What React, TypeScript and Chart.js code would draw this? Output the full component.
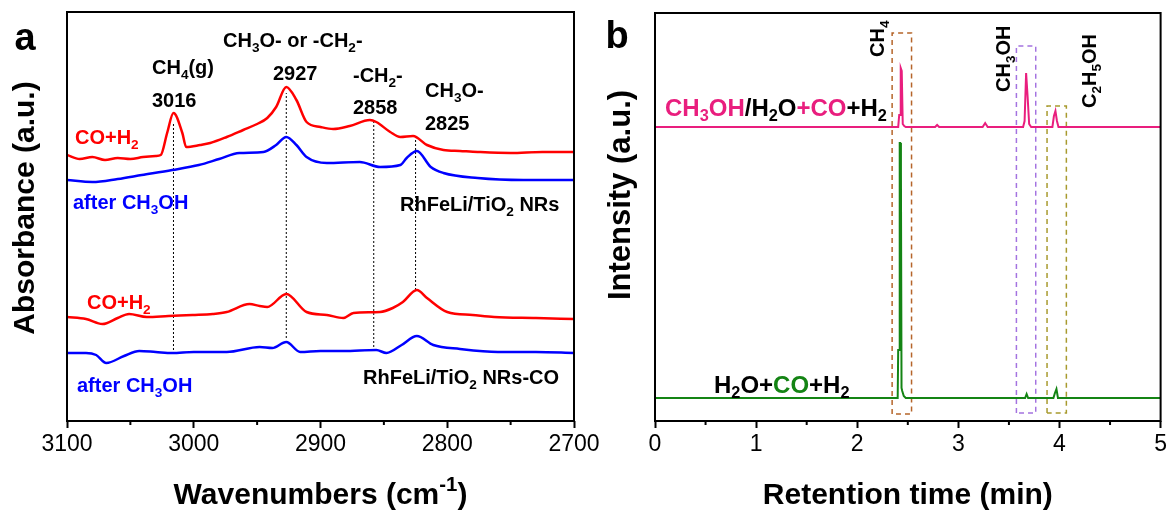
import React, { useEffect, useRef } from "react";
import { Chart, registerables } from "chart.js";

Chart.register(...registerables);

const FONT = "'Liberation Sans', Arial, Helvetica, sans-serif";

// ---------------- Panel a : DRIFTS spectra (wavenumber, absorbance a.u.) ----------------
const wnRedTop = [3100, 3090, 3080, 3070, 3060, 3050, 3040, 3030, 3026, 3021, 3016, 3009, 3006, 2995, 2987, 2974, 2961, 2950, 2942, 2935, 2927, 2919, 2911, 2900, 2890, 2877, 2861, 2856, 2845, 2837, 2827, 2816, 2803, 2790, 2776, 2750, 2725, 2700];
const absRedTop = [2.66, 2.62, 2.64, 2.61, 2.63, 2.62, 2.64, 2.65, 2.66, 2.88, 3.08, 2.88, 2.74, 2.76, 2.78, 2.84, 2.91, 2.97, 3.03, 3.14, 3.34, 3.21, 2.99, 2.94, 2.92, 2.95, 3.01, 2.99, 2.89, 2.84, 2.85, 2.76, 2.71, 2.70, 2.69, 2.68, 2.69, 2.69];

const wnBlueTop = [3100, 3080, 3060, 3041, 3017, 2996, 2980, 2964, 2945, 2935, 2927, 2919, 2911, 2895, 2869, 2853, 2837, 2832, 2824, 2813, 2803, 2776, 2740, 2700];
const absBlueTop = [2.41, 2.39, 2.42, 2.46, 2.51, 2.56, 2.62, 2.68, 2.69, 2.76, 2.84, 2.76, 2.64, 2.58, 2.59, 2.54, 2.56, 2.63, 2.70, 2.54, 2.48, 2.43, 2.41, 2.41];

const wnRedBottom = [3100, 3085, 3072, 3060, 3051, 3037, 3020, 3001, 2985, 2974, 2956, 2948, 2942, 2927, 2911, 2895, 2882, 2874, 2853, 2843, 2835, 2824, 2816, 2800, 2780, 2763, 2730, 2700];
const absRedBottom = [1.04, 1.02, 0.97, 1.03, 1.07, 1.04, 1.05, 1.06, 1.07, 1.09, 1.17, 1.15, 1.14, 1.27, 1.09, 1.06, 1.03, 1.08, 1.09, 1.13, 1.19, 1.31, 1.23, 1.09, 1.06, 1.04, 1.03, 1.02];

const wnBlueBottom = [3100, 3085, 3077, 3069, 3055, 3043, 3030, 3017, 3000, 2974, 2948, 2938, 2927, 2916, 2900, 2882, 2856, 2848, 2836, 2824, 2811, 2790, 2760, 2730, 2700];
const absBlueBottom = [0.68, 0.68, 0.66, 0.58, 0.65, 0.70, 0.69, 0.68, 0.69, 0.69, 0.74, 0.73, 0.79, 0.69, 0.70, 0.70, 0.71, 0.68, 0.76, 0.85, 0.76, 0.72, 0.69, 0.69, 0.68];

const markerWn = [3016, 2927, 2858, 2825];
const markerTop = [2.98, 3.28, 2.99, 2.81];
const markerBottom = [0.71, 0.83, 0.74, 1.31];

const ticksA = [2700, 2800, 2900, 3000, 3100];
const minorA = [2750, 2850, 2950, 3050];

// ---------------- Panel b : GC traces (retention time min, intensity a.u.) ----------------
const tPink = [0, 2.30, 2.405, 2.415, 2.425, 2.43, 2.44, 2.45, 2.465, 2.48, 2.77, 2.79, 2.81, 3.24, 3.265, 3.29, 3.64, 3.655, 3.67, 3.685, 3.70, 3.72, 3.93, 3.945, 3.96, 3.975, 3.99, 5];
const iPink = [2.94, 2.94, 2.94, 3.06, 3.06, 3.53, 3.50, 2.97, 2.95, 2.94, 2.94, 2.96, 2.94, 2.94, 2.98, 2.94, 2.94, 3.00, 3.48, 3.24, 2.97, 2.94, 2.94, 3.05, 3.10, 3.00, 2.94, 2.94];

const tGreen = [0, 2.40, 2.405, 2.415, 2.42, 2.425, 2.432, 2.438, 2.445, 2.46, 2.48, 3.66, 3.675, 3.69, 3.94, 3.955, 3.97, 3.985, 5];
const iGreen = [0.23, 0.23, 0.71, 0.71, 2.78, 2.78, 2.49, 0.33, 0.30, 0.25, 0.23, 0.23, 0.27, 0.23, 0.23, 0.28, 0.32, 0.23, 0.23];

const boxStart = [2.345, 3.574, 3.877];
const boxEnd = [2.537, 3.765, 4.068];
const boxTop = [3.88, 3.75, 3.15];
const boxBottom = [0.07, 0.08, 0.08];
const boxColors = ["#b5652a", "#a473e0", "#a89a2e"];

const ticksB = [0, 1, 2, 3, 4, 5];
const minorB = [0.5, 1.5, 2.5, 3.5, 4.5];

const RED = "#ff0000";
const BLUE = "#0000ff";
const PINK = "#e91e7e";
const GREEN = "#148414";

type Seg = { t: string; c?: string; s?: "sub" | "sup" };
type Note = { segs: Seg[]; dx: number; dy: number; size: number; rot?: boolean };

const S = (t: string, c?: string, s?: "sub" | "sup"): Seg => ({ t, c, s });

const notesA: Note[] = [
  { segs: [S("CH"), S("4", undefined, "sub"), S("(g)")], dx: 85, dy: 55, size: 20 },
  { segs: [S("3016")], dx: 85, dy: 88, size: 20 },
  { segs: [S("CH"), S("3", undefined, "sub"), S("O- or -CH"), S("2", undefined, "sub"), S("-")], dx: 156, dy: 28, size: 20 },
  { segs: [S("2927")], dx: 206, dy: 61, size: 20 },
  { segs: [S("-CH"), S("2", undefined, "sub"), S("-")], dx: 286, dy: 63, size: 20 },
  { segs: [S("2858")], dx: 286, dy: 95, size: 20 },
  { segs: [S("CH"), S("3", undefined, "sub"), S("O-")], dx: 358, dy: 78, size: 20 },
  { segs: [S("2825")], dx: 358, dy: 111, size: 20 },
  { segs: [S("CO+H", RED), S("2", RED, "sub")], dx: 8, dy: 125, size: 20 },
  { segs: [S("after CH", BLUE), S("3", BLUE, "sub"), S("OH", BLUE)], dx: 6, dy: 190, size: 20 },
  { segs: [S("RhFeLi/TiO"), S("2", undefined, "sub"), S(" NRs")], dx: 333, dy: 192, size: 20 },
  { segs: [S("CO+H", RED), S("2", RED, "sub")], dx: 20, dy: 290, size: 20 },
  { segs: [S("after CH", BLUE), S("3", BLUE, "sub"), S("OH", BLUE)], dx: 10, dy: 373, size: 20 },
  { segs: [S("RhFeLi/TiO"), S("2", undefined, "sub"), S(" NRs-CO")], dx: 296, dy: 365, size: 20 },
];

const notesB: Note[] = [
  { segs: [S("CH", PINK), S("3", PINK, "sub"), S("OH", PINK), S("/H"), S("2", undefined, "sub"), S("O"), S("+CO", PINK), S("+H"), S("2", undefined, "sub")], dx: 10, dy: 94, size: 24 },
  { segs: [S("H"), S("2", undefined, "sub"), S("O+"), S("CO", GREEN), S("+H"), S("2", undefined, "sub")], dx: 59, dy: 371, size: 24 },
  { segs: [S("CH"), S("4", undefined, "sub")], dx: 222, dy: 44, size: 20, rot: true },
  { segs: [S("CH"), S("3", undefined, "sub"), S("OH")], dx: 348, dy: 79, size: 20, rot: true },
  { segs: [S("C"), S("2", undefined, "sub"), S("H"), S("5", undefined, "sub"), S("OH")], dx: 434, dy: 95, size: 20, rot: true },
];

function richWidth(ctx: CanvasRenderingContext2D, segs: Seg[], size: number, weight: string) {
  let w = 0;
  for (const s of segs) {
    const fs = s.s ? size * 0.68 : size;
    ctx.font = `${weight} ${fs}px ${FONT}`;
    w += ctx.measureText(s.t).width;
  }
  return w;
}

function drawRich(
  ctx: CanvasRenderingContext2D,
  segs: Seg[],
  x: number,
  y: number,
  size: number,
  opts: { weight?: string; rot?: boolean; center?: boolean } = {}
) {
  const weight = opts.weight || "bold";
  ctx.save();
  ctx.translate(x, y);
  if (opts.rot) ctx.rotate(-Math.PI / 2);
  ctx.textBaseline = "alphabetic";
  ctx.textAlign = "left";
  let cx = opts.center ? -richWidth(ctx, segs, size, weight) / 2 : 0;
  const base = size * 0.36;
  for (const s of segs) {
    const fs = s.s ? size * 0.68 : size;
    ctx.font = `${weight} ${fs}px ${FONT}`;
    ctx.fillStyle = s.c || "#000";
    const dy = s.s === "sub" ? size * 0.22 : s.s === "sup" ? -size * 0.42 : 0;
    ctx.fillText(s.t, cx, base + dy);
    cx += ctx.measureText(s.t).width;
  }
  ctx.restore();
}

type Decor = {
  notes: Note[];
  letter: { t: string; x: number; y: number };
  yTitle: { t: string; x: number; y: number; size: number };
  xTitle: Seg[];
  xTitleY: number;
  minor: number[];
};

const makeDecor = (d: Decor) => ({
  id: "decor",
  afterDraw(chart: any) {
    const ctx: CanvasRenderingContext2D = chart.ctx;
    const a = chart.chartArea;
    const xs = chart.scales.x;
    ctx.save();
    ctx.strokeStyle = "#000";
    ctx.lineWidth = 2;
    ctx.strokeRect(a.left, a.top, a.right - a.left, a.bottom - a.top);
    for (const m of d.minor) {
      const px = xs.getPixelForValue(m);
      ctx.beginPath();
      ctx.moveTo(px, a.bottom);
      ctx.lineTo(px, a.bottom + 4);
      ctx.stroke();
    }
    for (const n of d.notes) {
      drawRich(ctx, n.segs, a.left + n.dx, a.top + n.dy, n.size, { rot: n.rot });
    }
    // panel letter
    ctx.font = `bold 38px ${FONT}`;
    ctx.fillStyle = "#000";
    ctx.textAlign = "center";
    ctx.textBaseline = "alphabetic";
    ctx.fillText(d.letter.t, d.letter.x, d.letter.y);
    // axis titles
    drawRich(ctx, [S(d.yTitle.t)], d.yTitle.x, d.yTitle.y, d.yTitle.size, { rot: true, center: true });
    drawRich(ctx, d.xTitle, (a.left + a.right) / 2, d.xTitleY, 30, { center: true });
    ctx.restore();
  },
});

function baseOptions(min: number, max: number, reverse: boolean, tickVals: number[], yMax: number, pad: any) {
  return {
    responsive: false,
    animation: false as const,
    devicePixelRatio: 1,
    layout: { padding: pad },
    plugins: { legend: { display: false }, tooltip: { enabled: false } },
    elements: { point: { radius: 0 } },
    scales: {
      x: {
        type: "linear" as const,
        position: "bottom" as const,
        min,
        max,
        reverse,
        afterBuildTicks: (axis: any) => {
          axis.ticks = tickVals.map((v) => ({ value: v }));
        },
        afterFit: (axis: any) => {
          axis.height = 89;
        },
        ticks: {
          color: "#000",
          font: { family: FONT, size: 23 },
          padding: 3,
          maxRotation: 0,
          autoSkip: false,
          callback: (v: any) => String(v),
        },
        grid: {
          display: true,
          drawOnChartArea: false,
          drawTicks: true,
          tickLength: 7,
          tickWidth: 2,
          tickColor: "#000",
        },
        border: { display: false },
        title: { display: false },
      },
      y: { type: "linear" as const, display: false, min: 0, max: yMax },
    },
  };
}

const line = (xs: number[], ys: number[], color: string, width: number, extra: any = {}) => ({
  data: xs.map((x, i) => ({ x, y: ys[i] })),
  showLine: true,
  borderColor: color,
  backgroundColor: color,
  borderWidth: width,
  pointRadius: 0,
  fill: false,
  ...extra,
});

export default function App() {
  const refA = useRef<HTMLCanvasElement>(null);
  const refB = useRef<HTMLCanvasElement>(null);

  useEffect(() => {
    document.body.style.margin = "0";
    const smooth = { cubicInterpolationMode: "monotone" };
    const dsA: any[] = [
      line(wnRedTop, absRedTop, RED, 2.5, smooth),
      line(wnBlueTop, absBlueTop, BLUE, 2.5, smooth),
      line(wnRedBottom, absRedBottom, RED, 2.5, smooth),
      line(wnBlueBottom, absBlueBottom, BLUE, 2.5, smooth),
      ...markerWn.map((w, i) =>
        line([w, w], [markerBottom[i], markerTop[i]], "#000", 1, { borderDash: [2, 2] })
      ),
    ];
    const chartA = new Chart(refA.current!, {
      type: "scatter",
      data: { datasets: dsA },
      options: baseOptions(2700, 3100, true, ticksA, 4.09, { left: 67, top: 12, right: 46, bottom: 0 }) as any,
      plugins: [
        makeDecor({
          notes: notesA,
          letter: { t: "a", x: 25, y: 50 },
          yTitle: { t: "Absorbance (a.u.)", x: 23, y: 208, size: 30 },
          xTitle: [S("Wavenumbers (cm"), S("-1", undefined, "sup"), S(")")],
          xTitleY: 493,
          minor: minorA,
        }),
      ],
    });

    const dsB: any[] = [
      line(tPink, iPink, PINK, 2),
      line(tGreen, iGreen, GREEN, 2),
      ...boxStart.map((s, i) =>
        line(
          [s, s, boxEnd[i], boxEnd[i], s],
          [boxBottom[i], boxTop[i], boxTop[i], boxBottom[i], boxBottom[i]],
          boxColors[i],
          1.5,
          { borderDash: [5, 4] }
        )
      ),
    ];
    const chartB = new Chart(refB.current!, {
      type: "scatter",
      data: { datasets: dsB },
      options: baseOptions(0, 5, false, ticksB, 4.08, { left: 65, top: 13, right: 9, bottom: 0 }) as any,
      plugins: [
        makeDecor({
          notes: notesB,
          letter: { t: "b", x: 27, y: 48 },
          yTitle: { t: "Intensity (a.u.)", x: 29, y: 195, size: 31 },
          xTitle: [S("Retention time (min)")],
          xTitleY: 493,
          minor: minorB,
        }),
      ],
    });

    return () => {
      chartA.destroy();
      chartB.destroy();
    };
  }, []);

  return (
    <div style={{ position: "fixed", left: 0, top: 0, width: 1170, height: 510, background: "#fff" }}>
      <canvas ref={refA} width={620} height={510} style={{ position: "absolute", left: 0, top: 0 }} />
      <canvas ref={refB} width={580} height={510} style={{ position: "absolute", left: 590, top: 0 }} />
    </div>
  );
}
